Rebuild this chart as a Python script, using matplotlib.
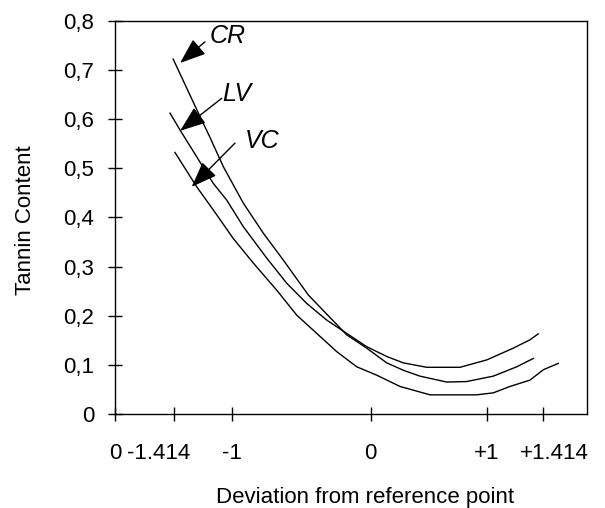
"""
Tannin content vs. deviation from reference point (CR, LV, VC curves).
"""

import matplotlib
matplotlib.use("Agg")
import matplotlib.pyplot as plt
import matplotlib.transforms as mtransforms

plt.rcParams["font.family"] = ["Liberation Sans", "DejaVu Sans"]

# curves, x in coded deviation units, y = tannin content
cr_x = [-1.420, -1.214, -1.189, -1.176, -1.140, -1.035, -0.882, -0.729, -0.575,
        -0.383, -0.089, 0.064, 0.218, 0.345, 0.473, 0.678, 0.831, 1.035, 1.215, 1.342]
cr_y = [0.722, 0.605, 0.591, 0.584, 0.564, 0.503, 0.429, 0.368, 0.313,
        0.242, 0.161, 0.134, 0.104, 0.089, 0.077, 0.065, 0.066, 0.077, 0.096, 0.113]

lv_x = [-1.444, -1.368, -1.239, -1.112, -1.009, -0.882, -0.702, -0.549, -0.396,
        -0.242, -0.089, 0.064, 0.218, 0.345, 0.525, 0.780, 0.985, 1.189, 1.317, 1.380]
lv_y = [0.612, 0.578, 0.523, 0.469, 0.435, 0.381, 0.317, 0.266, 0.225,
        0.191, 0.164, 0.137, 0.117, 0.104, 0.095, 0.095, 0.110, 0.134, 0.151, 0.163]

vc_x = [-1.406, -1.239, -1.112, -0.959, -0.805, -0.626, -0.472, -0.319, -0.166,
        -0.012, 0.141, 0.320, 0.550, 0.908, 1.035, 1.163, 1.317, 1.419, 1.534]
vc_y = [0.532, 0.462, 0.415, 0.357, 0.307, 0.252, 0.201, 0.164, 0.127,
        0.096, 0.079, 0.056, 0.039, 0.039, 0.043, 0.056, 0.069, 0.090, 0.103]

# tick positions (axis is not evenly spaced)
xtick_pos = [-1.866, -1.414, -0.969, 0.094, 0.984, 1.414]
xtick_labels = ["0", "-1.414", "-1", "0", "+1", "+1.414"]
ytick_pos = [0, 0.1, 0.2, 0.3, 0.4, 0.5, 0.6, 0.7, 0.8]
ytick_labels = ["0", "0,1", "0,2", "0,3", "0,4", "0,5", "0,6", "0,7", "0,8"]

# curve labels: (name, text pos, arrow tail, arrow tip)
labels = [
    ("CR", (-1.00, 0.769), (-1.176, 0.757), (-1.367, 0.714)),
    ("LV", (-0.93, 0.651), (-1.048, 0.642), (-1.367, 0.576)),
    ("VC", (-0.738, 0.555), (-0.946, 0.551), (-1.278, 0.462)),
]


def main() -> None:
    fig = plt.figure(figsize=(6.05, 5.08), dpi=100)
    ax = fig.add_axes([115 / 605, 94 / 508, 472 / 605, 393.3 / 508])

    for xs, ys in [(cr_x, cr_y), (lv_x, lv_y), (vc_x, vc_y)]:
        ax.plot(xs, ys, color="black", linewidth=1.0)

    for name, txt, tail, tip in labels:
        ax.annotate("", xy=tip, xytext=tail,
                    arrowprops=dict(arrowstyle="-|>,head_length=1.6,head_width=0.6",
                                    color="black", lw=1.0, shrinkA=0, shrinkB=0,
                                    mutation_scale=10))
        ax.text(txt[0], txt[1], name, fontsize=18, style="italic",
                ha="center", va="center")

    ax.set_xlim(-1.866, 1.754)
    ax.set_ylim(0, 0.8)
    ax.set_xticks(xtick_pos)
    ax.set_xticklabels(xtick_labels)
    ax.set_yticks(ytick_pos)
    ax.set_yticklabels(ytick_labels)
    ax.tick_params(direction="inout", length=10, width=1, labelsize=16, color="black")
    ax.tick_params(axis="x", pad=16)
    ax.tick_params(axis="y", pad=10)

    # nudge the outer labels like in the original
    shifts = {1: -15, 5: 12}
    for i, lab in enumerate(ax.get_xticklabels()):
        if i in shifts:
            off = mtransforms.ScaledTranslation(shifts[i] / 100, 0, fig.dpi_scale_trans)
            lab.set_transform(lab.get_transform() + off)

    for sp in ax.spines.values():
        sp.set_linewidth(1.0)

    ax.set_xlabel("Deviation from reference point", fontsize=16)
    ax.xaxis.set_label_coords(0.53, -0.185)
    ax.set_ylabel("Tannin Content", fontsize=16)
    ax.yaxis.set_label_coords(-0.168, 0.493)

    fig.savefig("out.png", dpi=100)
    plt.close(fig)


if __name__ == "__main__":
    main()
